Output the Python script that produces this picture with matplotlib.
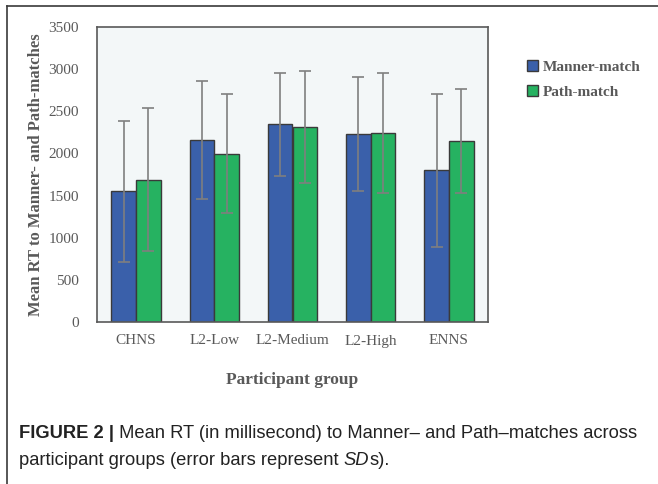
import numpy as np
import matplotlib
matplotlib.use("Agg")
import matplotlib.pyplot as plt
from matplotlib.lines import Line2D

groups = ["CHNS", "L2-Low", "L2-Medium", "L2-High", "ENNS"]
manner_mean = [1551, 2160, 2347, 2234, 1800]
manner_sd = [835, 700, 612, 674, 905]
path_mean = [1690, 1998, 2317, 2238, 2146]
path_sd = [846, 702, 663, 713, 620]

blue = "#3A60AA"
green = "#26B261"
grey_txt = "#595959"
serif = ["Liberation Serif", "DejaVu Serif"]
sans = ["Liberation Sans", "DejaVu Sans"]

fig = plt.figure(figsize=(6.58, 4.84), dpi=100)
ax = fig.add_axes([97 / 658, 1 - 322 / 484, (488 - 97) / 658, (322 - 27) / 484])
ax.set_facecolor("#F3F7F8")

x = np.arange(len(groups))
w = 0.315
err_kw = dict(ecolor="#7F7F7F", elinewidth=1.2, capsize=4, capthick=1.2)
b1 = ax.bar(x - w / 2, manner_mean, w, yerr=manner_sd, color=blue,
            edgecolor="#3A3A3A", linewidth=1, error_kw=err_kw, label="Manner-match")
b2 = ax.bar(x + w / 2, path_mean, w, yerr=path_sd, color=green,
            edgecolor="#3A3A3A", linewidth=1, error_kw=err_kw, label="Path-match")

ax.set_xlim(-0.5, len(groups) - 0.5)
ax.set_ylim(0, 3500)
ax.set_yticks(np.arange(0, 3501, 500))
ax.set_xticks(x)
ax.set_xticklabels(groups)
for sp in ax.spines.values():
    sp.set_color("#595959")
    sp.set_linewidth(1.2)
ax.tick_params(length=0, labelsize=11, labelcolor=grey_txt, pad=13)
for lab in ax.get_xticklabels() + ax.get_yticklabels():
    lab.set_family(serif)
ax.tick_params(axis="x", pad=9)

ax.set_ylabel("Mean RT to Manner- and Path-matches", family=serif,
              fontweight="bold", fontsize=12, color=grey_txt, labelpad=3)
ax.set_xlabel("Participant group", family=serif, fontweight="bold",
              fontsize=12.5, color=grey_txt, labelpad=18)

ax.legend(handles=[b1, b2], loc="upper left", bbox_to_anchor=(1.065, 0.935),
          frameon=False, prop=dict(family=serif, weight="bold", size=11),
          handlelength=0.7, handleheight=0.7, handletextpad=0.3,
          labelspacing=0.75, labelcolor=grey_txt)

# outer frame (top and left edges)
fig.add_artist(Line2D([7 / 658, 1], [1 - 6 / 484, 1 - 6 / 484], color="#3A3A3A", lw=1.2))
fig.add_artist(Line2D([7 / 658, 7 / 658], [0, 1 - 6 / 484], color="#3A3A3A", lw=1.2))

# caption
fs = 13.2
ink = "#222222"
t1 = fig.text(19 / 658, 1 - 438 / 484, "FIGURE 2 |", family=sans,
              fontweight="bold", fontsize=fs, color=ink, va="baseline")
ax.annotate(" Mean RT (in millisecond) to Manner\u2013 and Path\u2013matches across",
            xy=(1, 0), xycoords=t1, va="bottom", ha="left",
            family=sans, fontsize=fs, color=ink, annotation_clip=False)
t2 = fig.text(19 / 658, 1 - 465 / 484, "participant groups (error bars represent ",
              family=sans, fontsize=fs, color=ink, va="baseline")
t3 = ax.annotate("SD", xy=(1, 0), xycoords=t2, va="bottom", ha="left",
                 family=sans, style="italic", fontsize=fs, color=ink,
                 annotation_clip=False)
ax.annotate("s).", xy=(1, 0), xycoords=t3, va="bottom", ha="left",
            family=sans, fontsize=fs, color=ink, annotation_clip=False)

fig.savefig("out.png", dpi=100)
